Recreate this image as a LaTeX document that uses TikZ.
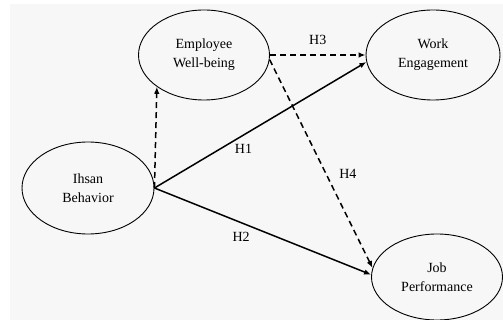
\documentclass[tikz,border=0pt]{standalone}
\usepackage{fontspec}
\setmainfont{Liberation Serif}
\usetikzlibrary{positioning, shapes.geometric, arrows.meta}
\tikzstyle{Arrow} = [
%solid path with a small filled head
line width=1.5pt, -{Latex[length=7pt, width=5.5pt]}
]
\tikzstyle{DashArrow} = [Arrow, dash pattern=on 6pt off 4pt]

\begin{document}
\begin{tikzpicture}[x=1pt, y=-1pt,
			construct/.style = {ellipse, draw, line width=0.9pt, align=center, inner sep=0pt, minimum width=131pt, minimum height=90pt, font=\fontsize{14}{19}\selectfont},
			hyp/.style = {font=\fontsize{14}{16}\selectfont},
		]
		\useasboundingbox (0,0) rectangle (503,320);
		\fill[black!3] (10,4) rectangle (503,320);

		\node[construct] (EW) at (204,55) {Employee\\Well-being};
		\node[construct, minimum width=134pt] (WE) at (433,55) {Work\\Engagement};
		\node[construct, minimum width=132pt, minimum height=92pt] (IB) at (88,188) {Ihsan\\Behavior};
		\node[construct, minimum height=86pt] (JP) at (437,277) {Job\\Performance};

		\draw[DashArrow](IB.east)--(EW.214);
		\draw[DashArrow](EW.east)--node[hyp, midway, above=6pt] {H3}(WE.west);
		\draw[DashArrow](EW.-4)--node[hyp, pos=0.55, right=9pt] {H4}(JP.172);
		\draw[Arrow](IB.east)--node[hyp, pos=0.42, below=5pt] {H1}(WE.186);
		\draw[Arrow](IB.east)--node[hyp, pos=0.4, below=5pt] {H2}(JP.178);
	\end{tikzpicture}
\end{document}
